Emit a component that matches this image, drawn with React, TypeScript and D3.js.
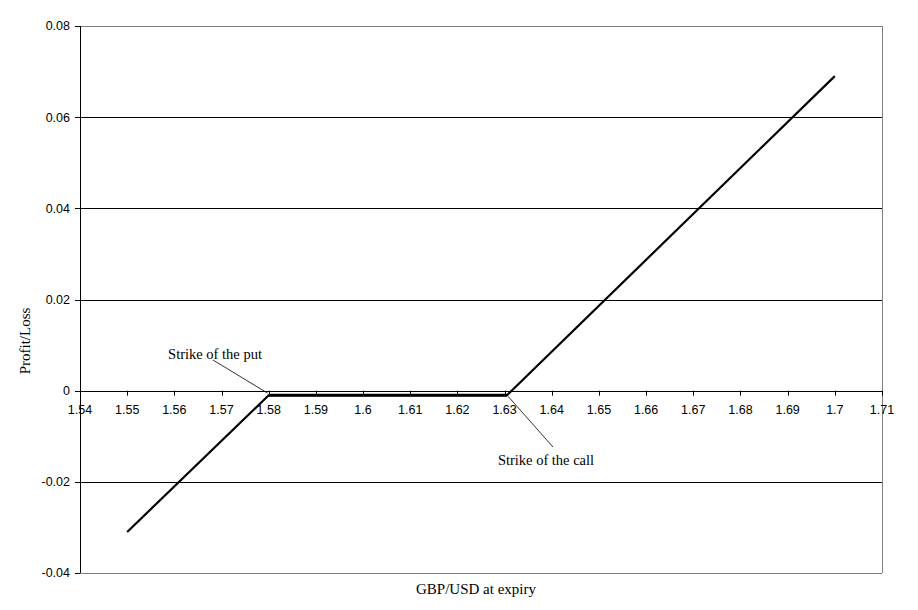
import React from "react";
import * as d3 from "d3";

const rateX = [1.55, 1.58, 1.6305, 1.7];
const profitY = [-0.031, -0.001, -0.001, 0.069];
const xTicks = [1.54, 1.55, 1.56, 1.57, 1.58, 1.59, 1.6, 1.61, 1.62, 1.63, 1.64, 1.65, 1.66, 1.67, 1.68, 1.69, 1.7, 1.71];
const yTicks = [0.08, 0.06, 0.04, 0.02, 0, -0.02, -0.04];
const gridY = [0.06, 0.04, 0.02, -0.02];
const annotations = [
  { label: "Strike of the put", x: 1.58, y: -0.001 },
  { label: "Strike of the call", x: 1.6305, y: -0.001 },
];

export default function App() {
  const W = 918, H = 610;
  const L = 80, R = 882, T = 26, B = 573;
  const x = d3.scaleLinear().domain([1.54, 1.71]).range([L, R]);
  const y = d3.scaleLinear().domain([-0.04, 0.08]).range([B, T]);
  const line = d3.line<number>().x((_, i) => x(rateX[i])).y((d) => y(d));
  const tickFont = "'Liberation Sans', Arial, sans-serif";
  const serif = "'Liberation Serif', 'Times New Roman', serif";
  const fmt = (v: number) => String(+v.toFixed(2));
  const putP = annotations[0], callP = annotations[1];
  return (
    <svg width={W} height={H} style={{ position: "absolute", left: 0, top: 0, background: "#fff" }}>
      <rect x={0} y={0} width={W} height={H} fill="#fff" />
      {/* border */}
      <line x1={L} x2={R} y1={T + 0.5} y2={T + 0.5} stroke="#808080" strokeWidth={1} />
      <line x1={R + 0.5} x2={R + 0.5} y1={T} y2={B} stroke="#808080" strokeWidth={1} />
      <line x1={L} x2={R} y1={B + 0.5} y2={B + 0.5} stroke="#808080" strokeWidth={1} />
      {gridY.map((v) => (
        <line key={v} x1={L} x2={R} y1={Math.round(y(v)) + 0.5} y2={Math.round(y(v)) + 0.5} stroke="#000" strokeWidth={1} />
      ))}
      {/* y axis */}
      <line x1={L + 0.5} x2={L + 0.5} y1={T} y2={B} stroke="#000" strokeWidth={1} />
      {yTicks.map((v) => (
        <g key={v}>
          <line x1={L - 5} x2={L} y1={Math.round(y(v)) + 0.5} y2={Math.round(y(v)) + 0.5} stroke="#000" />
          <text x={L - 10} y={y(v)} dy="0.35em" textAnchor="end" fontFamily={tickFont} fontSize={12.5} fill="#000">
            {fmt(v)}
          </text>
        </g>
      ))}
      {/* x axis at zero */}
      <line x1={L} x2={R} y1={Math.round(y(0)) + 0.5} y2={Math.round(y(0)) + 0.5} stroke="#000" strokeWidth={1} />
      {xTicks.map((v) => (
        <g key={v}>
          <line x1={Math.round(x(v)) + 0.5} x2={Math.round(x(v)) + 0.5} y1={y(0)} y2={y(0) + 5} stroke="#000" />
          <text x={x(v)} y={y(0) + 19} dy="0.35em" textAnchor="middle" fontFamily={tickFont} fontSize={12.5} fill="#000">
            {fmt(v)}
          </text>
        </g>
      ))}
      {/* payoff line */}
      <path d={line(profitY) || ""} fill="none" stroke="#000" strokeWidth={2.2} strokeLinejoin="round" />
      <line x1={x(rateX[1])} x2={x(rateX[2])} y1={y(profitY[1])} y2={y(profitY[2])} stroke="#000" strokeWidth={3} />
      {/* annotations */}
      <line x1={213} y1={360} x2={x(putP.x) - 1} y2={y(putP.y) - 2} stroke="#000" strokeWidth={0.8} />
      <text x={215} y={354} dy="0.35em" textAnchor="middle" fontFamily={serif} fontSize={14.5} fill="#000">
        {putP.label}
      </text>
      <line x1={x(callP.x) + 1} y1={y(callP.y) + 1} x2={553} y2={447} stroke="#000" strokeWidth={0.8} />
      <text x={546} y={460} dy="0.35em" textAnchor="middle" fontFamily={serif} fontSize={14.5} fill="#000">
        {callP.label}
      </text>
      {/* axis titles */}
      <text x={476} y={589} dy="0.35em" textAnchor="middle" fontFamily={serif} fontSize={15} fill="#000">
        GBP/USD at expiry
      </text>
      <text transform={`translate(25,341) rotate(-90)`} dy="0.35em" textAnchor="middle" fontFamily={serif} fontSize={15} fill="#000">
        Profit/Loss
      </text>
    </svg>
  );
}
